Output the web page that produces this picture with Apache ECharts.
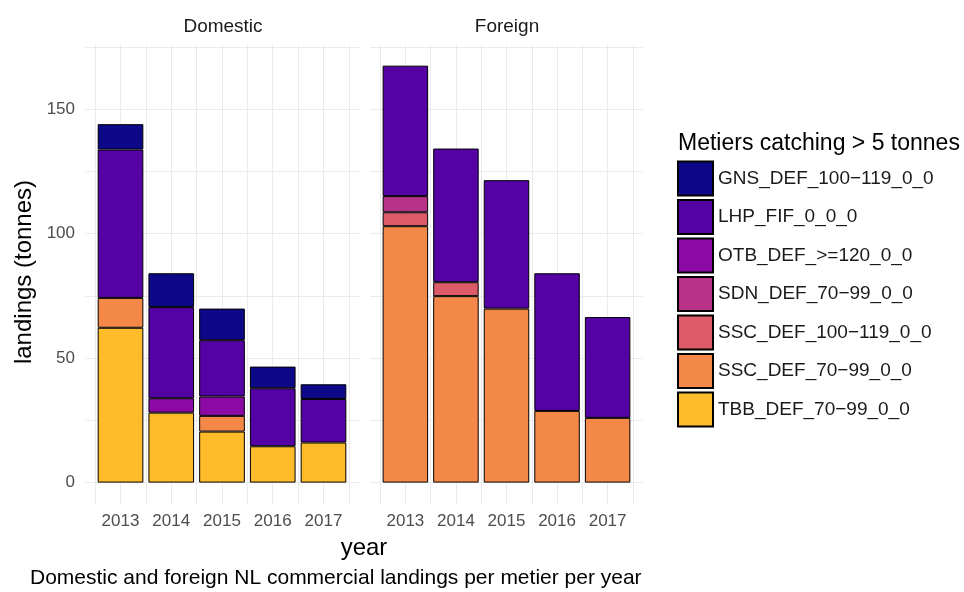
<!DOCTYPE html>
<html>
<head>
<meta charset="utf-8">
<script src="https://cdn.jsdelivr.net/npm/echarts@6/dist/echarts.min.js"></script>
<style>html,body{margin:0;padding:0;background:#fff}#c{width:964px;height:592px}</style>
</head>
<body>
<div id="c"></div>
<script>
// ---- data ----
const years = ['2013', '2014', '2015', '2016', '2017'];
const panels = ['Domestic', 'Foreign'];
const metiers = ['GNS_DEF_100\u2212119_0_0', 'LHP_FIF_0_0_0', 'OTB_DEF_>=120_0_0', 'SDN_DEF_70\u221299_0_0', 'SSC_DEF_100\u2212119_0_0', 'SSC_DEF_70\u221299_0_0', 'TBB_DEF_70\u221299_0_0'];
const metierColors = ['#0d0887', '#5402a3', '#8b0aa5', '#b93289', '#db5c68', '#f48849', '#febc2a'];
// Domestic values per metier (2013..2017), null = none
const domGNS = [10.2, 13.6, 12.7, 8.7, 5.9];
const domLHP = [59.6, 36.6, 22.6, 23.3, 17.5];
const domOTB = [null, 5.8, 7.8, null, null];
const domSDN = [null, null, null, null, null];
const domSSC100 = [null, null, null, null, null];
const domSSC70 = [12.0, null, 6.3, null, null];
const domTBB = [62.2, 28.1, 20.5, 14.6, 16.1];
// Foreign
const forGNS = [null, null, null, null, null];
const forLHP = [52.4, 53.7, 51.6, 55.3, 40.5];
const forOTB = [null, null, null, null, null];
const forSDN = [6.5, null, null, null, null];
const forSSC100 = [5.6, 5.6, null, null, null];
const forSSC70 = [103.0, 74.9, 69.9, 28.8, 26.0];
const forTBB = [null, null, null, null, null];
const yTicks = [0, 50, 100, 150];

const panelData = [
  [domGNS, domLHP, domOTB, domSDN, domSSC100, domSSC70, domTBB],
  [forGNS, forLHP, forOTB, forSDN, forSSC100, forSSC70, forTBB]
];

const font = 'Liberation Sans, Arial, sans-serif';
const chart = echarts.init(document.getElementById('c'), null, {renderer: 'canvas'});

// panel geometry: discrete axis expanded by 0.7 band on each side
const panelBox = [
  {left: 85, width: 274},
  {left: 370, width: 273}
];
const gTop = 44.5, gHeight = 460;
const yMin = -8.8, yMax = 176;
const expand = 0.7;

const grids = [];
panelBox.forEach(b => grids.push({left: b.left, top: gTop, width: b.width, height: gHeight}));
panelBox.forEach(b => {
  const band = b.width / (years.length - 1 + 2 * expand);
  grids.push({left: b.left + (expand - 0.5) * band, top: gTop, width: band * years.length, height: gHeight});
});

const xAxes = [];
const yAxes = [];
// outer grids: grid lines + labels
panelBox.forEach((b, i) => {
  xAxes.push({
    type: 'value', gridIndex: i, min: 1 - expand, max: years.length + expand, minInterval: 0.5, maxInterval: 0.5,
    axisLine: {show: false}, axisTick: {show: false},
    splitLine: {show: true, showMinLine: false, showMaxLine: false, lineStyle: {color: '#ebebeb', width: 1}},
    axisLabel: {
      show: true, showMinLabel: false, showMaxLabel: false, margin: 8,
      color: '#4d4d4d', fontSize: 17, fontFamily: font,
      formatter: v => (Math.abs(v - Math.round(v)) < 1e-6 && v >= 1 && v <= years.length) ? years[Math.round(v) - 1] : ''
    }
  });
  yAxes.push({
    type: 'value', gridIndex: i, min: yMin, max: yMax, minInterval: 25, maxInterval: 25,
    axisLine: {show: false}, axisTick: {show: false},
    splitLine: {show: true, showMinLine: false, showMaxLine: false, lineStyle: {color: '#ebebeb', width: 1}},
    axisLabel: {
      show: i === 0, margin: 10, color: '#4d4d4d', fontSize: 17, fontFamily: font,
      showMinLabel: false, showMaxLabel: false,
      formatter: v => yTicks.indexOf(v) >= 0 ? String(v) : ''
    }
  });
});
// inner grids: bars
panelBox.forEach((b, i) => {
  xAxes.push({type: 'category', gridIndex: 2 + i, data: years, show: false, boundaryGap: true});
  yAxes.push({type: 'value', gridIndex: 2 + i, min: yMin, max: yMax, show: false, splitLine: {show: false}});
});

// stacking order: bottom first (reverse of legend order)
const series = [];
panelData.forEach((pd, p) => {
  for (let k = metiers.length - 1; k >= 0; k--) {
    series.push({
      type: 'bar', name: metiers[k], xAxisIndex: 2 + p, yAxisIndex: 2 + p, stack: 'p' + p,
      barWidth: '90%',
      itemStyle: {color: metierColors[k], borderColor: '#000', borderWidth: 1},
      emphasis: {disabled: true},
      data: pd[k].map(v => v == null ? '-' : v)
    });
  }
});

chart.setOption({
  animation: false,
  backgroundColor: '#fff',
  textStyle: {fontFamily: font},
  grid: grids,
  xAxis: xAxes,
  yAxis: yAxes,
  legend: {
    orient: 'vertical', left: 677, top: 160.5, padding: 0, itemWidth: 35, itemHeight: 34, itemGap: 2.5,
    icon: 'rect', data: metiers, selectedMode: false,
    textStyle: {fontSize: 19, color: '#1a1a1a', fontFamily: font}
  },
  graphic: [
    {type: 'text', x: 223, y: 27, style: {text: panels[0], font: '19px ' + font, fill: '#1a1a1a', textAlign: 'center', textVerticalAlign: 'middle'}},
    {type: 'text', x: 507, y: 27, style: {text: panels[1], font: '19px ' + font, fill: '#1a1a1a', textAlign: 'center', textVerticalAlign: 'middle'}},
    {type: 'text', x: 678, y: 144, style: {text: 'Metiers catching > 5 tonnes', font: '23px ' + font, fill: '#000', textAlign: 'left', textVerticalAlign: 'middle'}},
    {type: 'text', x: 24, y: 272, rotation: Math.PI / 2, style: {text: 'landings (tonnes)', font: '24px ' + font, fill: '#000', textAlign: 'center', textVerticalAlign: 'middle'}},
    {type: 'text', x: 364, y: 548, style: {text: 'year', font: '24px ' + font, fill: '#000', textAlign: 'center', textVerticalAlign: 'middle'}},
    {type: 'text', x: 30, y: 578, style: {text: 'Domestic and foreign NL commercial landings per metier per year', font: '21px ' + font, fill: '#000', textAlign: 'left', textVerticalAlign: 'middle'}}
  ],
  series: series
});
</script>
</body>
</html>
